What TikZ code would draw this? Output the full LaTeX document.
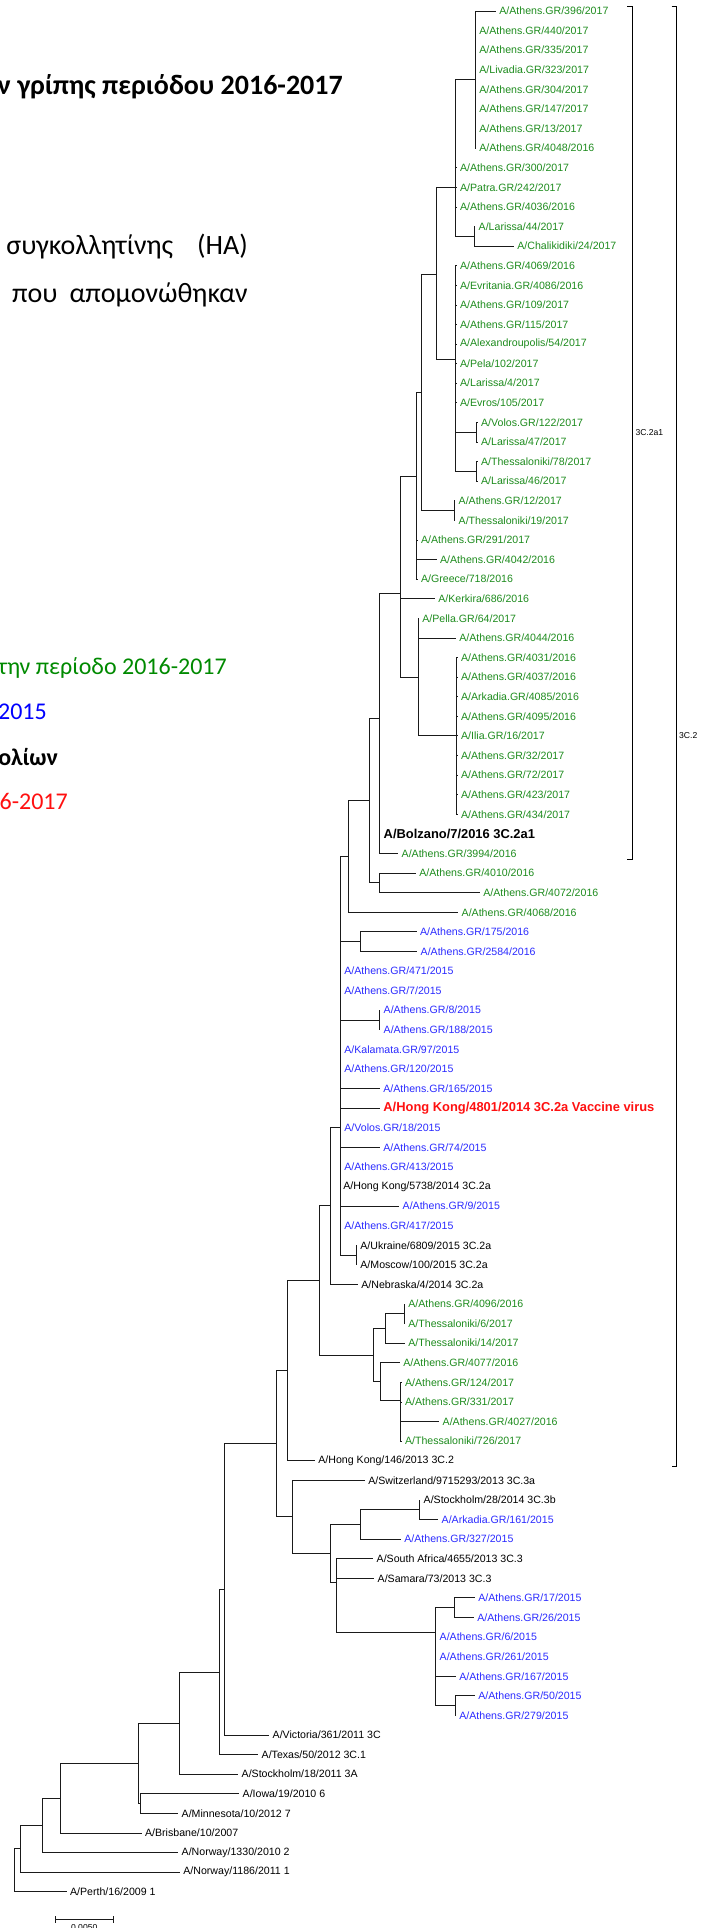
\documentclass[tikz,border=0pt]{standalone}
\usepackage{fontspec}
\setmainfont{Liberation Sans}
\newfontfamily\calibri{Carlito}
\usetikzlibrary{positioning}
\definecolor{IsoGreen}{HTML}{1E8C1E}
\definecolor{IsoBlue}{HTML}{2B2BFF}
\definecolor{VacRed}{HTML}{FF1010}
\definecolor{LegGreen}{HTML}{008A00}
\definecolor{LegBlue}{HTML}{0000FF}
\definecolor{BranchGray}{HTML}{1A1A1A}

\begin{document}
\begin{tikzpicture}[x=1pt,y=-1pt,
    leaf/.style={anchor=west, inner xsep=3.2pt, inner ysep=1pt, font=\fontsize{10.6}{12}\selectfont},
    grn/.style={leaf, text=IsoGreen},
    blu/.style={leaf, text=IsoBlue},
    blk/.style={leaf, text=black},
    refbold/.style={leaf, font=\fontsize{12.9}{14}\selectfont\bfseries},
    br/.style={draw=BranchGray, line width=0.8pt},
    brk/.style={draw=black, line width=0.7pt},
    cladelab/.style={inner sep=0pt, font=\fontsize{8.6}{10}\selectfont},
    slide/.style={anchor=east, inner sep=0pt, font=\calibri\fontsize{28}{32}\selectfont},
    legtxt/.style={anchor=east, inner sep=0pt, font=\calibri\fontsize{24}{28}\selectfont}]

  \clip (0,0) rectangle (709,1928);
  \fill[white] (0,0) rectangle (709,1928);

  % slide text behind the tree
  \node[slide, font=\calibri\bfseries\fontsize{28}{32}\selectfont] (title) at (343,86.7) {ν γρίπης περιόδου 2016-2017};
  \node[slide] (subA) at (248,246.7) {συγκολλητίνης\hspace{24pt}(HA)};
  \node[slide] (subB) at (248,295) {που\hspace{12pt}απομονώθηκαν};
  \node[legtxt, text=LegGreen] (legA) at (227,668) {την περίοδο 2016-2017};
  \node[legtxt, text=LegBlue] (legB) at (47,712) {2015};
  \node[legtxt, font=\calibri\bfseries\fontsize{24}{28}\selectfont] (legC) at (58,757) {ολίων};
  \node[legtxt, text=VacRed] (legD) at (68,801) {2016-2017};

  % leaves
  \node[grn] (l1) at (496,11) {A/Athens.GR/396/2017};
  \node[grn] (l2) at (476,30.6) {A/Athens.GR/440/2017};
  \node[grn] (l3) at (476,50.2) {A/Athens.GR/335/2017};
  \node[grn] (l4) at (476,69.8) {A/Livadia.GR/323/2017};
  \node[grn] (l5) at (476,89.4) {A/Athens.GR/304/2017};
  \node[grn] (l6) at (476,108.9) {A/Athens.GR/147/2017};
  \node[grn] (l7) at (476,128.5) {A/Athens.GR/13/2017};
  \node[grn] (l8) at (476,148.1) {A/Athens.GR/4048/2016};
  \node[grn] (l9) at (456.7,167.7) {A/Athens.GR/300/2017};
  \node[grn] (l10) at (456.7,187.3) {A/Patra.GR/242/2017};
  \node[grn] (l11) at (456.7,206.9) {A/Athens.GR/4036/2016};
  \node[grn] (l12) at (475.3,226.5) {A/Larissa/44/2017};
  \node[grn] (l13) at (514,246.1) {A/Chalikidiki/24/2017};
  \node[grn] (l14) at (456.7,265.7) {A/Athens.GR/4069/2016};
  \node[grn] (l15) at (456.7,285.3) {A/Evritania.GR/4086/2016};
  \node[grn] (l16) at (456.7,304.9) {A/Athens.GR/109/2017};
  \node[grn] (l17) at (456.7,324.4) {A/Athens.GR/115/2017};
  \node[grn] (l18) at (456.7,344.0) {A/Alexandroupolis/54/2017};
  \node[grn] (l19) at (456.7,363.6) {A/Pela/102/2017};
  \node[grn] (l20) at (456.7,383.2) {A/Larissa/4/2017};
  \node[grn] (l21) at (456.7,402.8) {A/Evros/105/2017};
  \node[grn] (l22) at (477.7,422.4) {A/Volos.GR/122/2017};
  \node[grn] (l23) at (477.7,442.0) {A/Larissa/47/2017};
  \node[grn] (l24) at (477.7,461.6) {A/Thessaloniki/78/2017};
  \node[grn] (l25) at (477.7,481.2) {A/Larissa/46/2017};
  \node[grn] (l26) at (455.3,500.8) {A/Athens.GR/12/2017};
  \node[grn] (l27) at (455.3,520.3) {A/Thessaloniki/19/2017};
  \node[grn] (l28) at (417.7,539.9) {A/Athens.GR/291/2017};
  \node[grn] (l29) at (436.7,559.5) {A/Athens.GR/4042/2016};
  \node[grn] (l30) at (417.7,579.1) {A/Greece/718/2016};
  \node[grn] (l31) at (435,598.7) {A/Kerkira/686/2016};
  \node[grn] (l32) at (419,618.3) {A/Pella.GR/64/2017};
  \node[grn] (l33) at (456,637.9) {A/Athens.GR/4044/2016};
  \node[grn] (l34) at (457.7,657.5) {A/Athens.GR/4031/2016};
  \node[grn] (l35) at (457.7,677.1) {A/Athens.GR/4037/2016};
  \node[grn] (l36) at (457.7,696.7) {A/Arkadia.GR/4085/2016};
  \node[grn] (l37) at (457.7,716.3) {A/Athens.GR/4095/2016};
  \node[grn] (l38) at (457.7,735.8) {A/Ilia.GR/16/2017};
  \node[grn] (l39) at (457.7,755.4) {A/Athens.GR/32/2017};
  \node[grn] (l40) at (457.7,775.0) {A/Athens.GR/72/2017};
  \node[grn] (l41) at (457.7,794.6) {A/Athens.GR/423/2017};
  \node[grn] (l42) at (457.7,814.2) {A/Athens.GR/434/2017};
  \node[refbold] (l43) at (380.3,833.8) {A/Bolzano/7/2016 3C.2a1};
  \node[grn] (l44) at (398.3,853.4) {A/Athens.GR/3994/2016};
  \node[grn] (l45) at (416,873.0) {A/Athens.GR/4010/2016};
  \node[grn] (l46) at (480,892.6) {A/Athens.GR/4072/2016};
  \node[grn] (l47) at (458.3,912.2) {A/Athens.GR/4068/2016};
  \node[blu] (l48) at (416.7,931.7) {A/Athens.GR/175/2016};
  \node[blu] (l49) at (417.3,951.3) {A/Athens.GR/2584/2016};
  \node[blu] (l50) at (341,970.9) {A/Athens.GR/471/2015};
  \node[blu] (l51) at (341,990.5) {A/Athens.GR/7/2015};
  \node[blu] (l52) at (380.3,1010.1) {A/Athens.GR/8/2015};
  \node[blu] (l53) at (380.3,1029.7) {A/Athens.GR/188/2015};
  \node[blu] (l54) at (341,1049.3) {A/Kalamata.GR/97/2015};
  \node[blu] (l55) at (341,1068.9) {A/Athens.GR/120/2015};
  \node[blu] (l56) at (380,1088.5) {A/Athens.GR/165/2015};
  \node[refbold, text=VacRed] (l57) at (380,1108.1) {A/Hong Kong/4801/2014 3C.2a Vaccine virus};
  \node[blu] (l58) at (341,1127.6) {A/Volos.GR/18/2015};
  \node[blu] (l59) at (380,1147.2) {A/Athens.GR/74/2015};
  \node[blu] (l60) at (341,1166.8) {A/Athens.GR/413/2015};
  \node[blk] (l61) at (340,1186.4) {A/Hong Kong/5738/2014 3C.2a};
  \node[blu] (l62) at (399.3,1206.0) {A/Athens.GR/9/2015};
  \node[blu] (l63) at (341,1225.6) {A/Athens.GR/417/2015};
  \node[blk] (l64) at (357,1245.2) {A/Ukraine/6809/2015 3C.2a};
  \node[blk] (l65) at (357,1264.8) {A/Moscow/100/2015 3C.2a};
  \node[blk] (l66) at (358,1284.4) {A/Nebraska/4/2014 3C.2a};
  \node[grn] (l67) at (405,1304.0) {A/Athens.GR/4096/2016};
  \node[grn] (l68) at (405,1323.5) {A/Thessaloniki/6/2017};
  \node[grn] (l69) at (405,1343.1) {A/Thessaloniki/14/2017};
  \node[grn] (l70) at (400,1362.7) {A/Athens.GR/4077/2016};
  \node[grn] (l71) at (401.7,1382.3) {A/Athens.GR/124/2017};
  \node[grn] (l72) at (401.7,1401.9) {A/Athens.GR/331/2017};
  \node[grn] (l73) at (439.3,1421.5) {A/Athens.GR/4027/2016};
  \node[grn] (l74) at (401.7,1441.1) {A/Thessaloniki/726/2017};
  \node[blk] (l75) at (315,1460.7) {A/Hong Kong/146/2013 3C.2};
  \node[blk] (l76) at (365,1480.3) {A/Switzerland/9715293/2013 3C.3a};
  \node[blk] (l77) at (420.3,1499.9) {A/Stockholm/28/2014 3C.3b};
  \node[blu] (l78) at (438.3,1519.4) {A/Arkadia.GR/161/2015};
  \node[blu] (l79) at (401,1539.0) {A/Athens.GR/327/2015};
  \node[blk] (l80) at (373.3,1558.6) {A/South Africa/4655/2013 3C.3};
  \node[blk] (l81) at (374.3,1578.2) {A/Samara/73/2013 3C.3};
  \node[blu] (l82) at (475,1597.8) {A/Athens.GR/17/2015};
  \node[blu] (l83) at (474,1617.4) {A/Athens.GR/26/2015};
  \node[blu] (l84) at (436.3,1637.0) {A/Athens.GR/6/2015};
  \node[blu] (l85) at (436.3,1656.6) {A/Athens.GR/261/2015};
  \node[blu] (l86) at (456,1676.2) {A/Athens.GR/167/2015};
  \node[blu] (l87) at (475,1695.8) {A/Athens.GR/50/2015};
  \node[blu] (l88) at (456,1715.3) {A/Athens.GR/279/2015};
  \node[blk] (l89) at (269.3,1734.9) {A/Victoria/361/2011 3C};
  \node[blk] (l90) at (258.3,1754.5) {A/Texas/50/2012 3C.1};
  \node[blk] (l91) at (238.3,1774.1) {A/Stockholm/18/2011 3A};
  \node[blk] (l92) at (239.3,1793.7) {A/Iowa/19/2010 6};
  \node[blk] (l93) at (178.3,1813.3) {A/Minnesota/10/2012 7};
  \node[blk] (l94) at (141.7,1832.9) {A/Brisbane/10/2007};
  \node[blk] (l95) at (178.3,1852.5) {A/Norway/1330/2010 2};
  \node[blk] (l96) at (180,1872.1) {A/Norway/1186/2011 1};
  \node[blk] (l97) at (66.7,1891.7) {A/Perth/16/2009 1};

  % internal nodes
  \coordinate (nA) at (475,79.5);
  \coordinate (nC) at (474.3,236.3);
  \coordinate (nB) at (455.7,187.3);
  \coordinate (nVL) at (476.7,432.2);
  \coordinate (nTL) at (476.7,471.4);
  \coordinate (nE) at (455.7,359.3);
  \coordinate (nD) at (436.7,274.7);
  \coordinate (nAT) at (454.3,510.5);
  \coordinate (nH) at (421.7,392.8);
  \coordinate (nG) at (416.7,559.5);
  \coordinate (nI) at (416.7,476.2);
  \coordinate (nK) at (456.7,735.8);
  \coordinate (nJ) at (418,677);
  \coordinate (nV) at (400,593);
  \coordinate (nL) at (379.3,718.4);
  \coordinate (nM) at (379.3,882.8);
  \coordinate (nN) at (369.3,800.7);
  \coordinate (nO) at (348.3,856.5);
  \coordinate (nQ) at (360,941.5);
  \coordinate (nRR) at (379.3,1019.9);
  \coordinate (nS) at (356,1255);
  \coordinate (nR) at (340,1127);
  \coordinate (nU) at (330,1205.7);
  \coordinate (nX1) at (404,1313.8);
  \coordinate (nX2) at (385.7,1328.5);
  \coordinate (nX4) at (400.7,1400);
  \coordinate (nX3) at (380.7,1381.4);
  \coordinate (nX) at (373.3,1355.3);
  \coordinate (nW) at (319.3,1280.5);
  \coordinate (nY) at (287.3,1370.6);
  \coordinate (nZ1) at (419.3,1509.7);
  \coordinate (nZ2) at (360.7,1524.4);
  \coordinate (nZ5) at (454.3,1607.6);
  \coordinate (nZ6) at (455,1705.6);
  \coordinate (nZ4) at (435.3,1632.7);
  \coordinate (nZ3) at (336,1582);
  \coordinate (nZ7) at (330,1553.2);
  \coordinate (nZ8) at (292.5,1516.7);
  \coordinate (nEE) at (276.5,1443.6);
  \coordinate (nDD) at (224,1589.3);
  \coordinate (nCC) at (219,1671.9);
  \coordinate (nBB) at (179,1723);
  \coordinate (nIM) at (140,1803.5);
  \coordinate (nAA) at (138.7,1763.3);
  \coordinate (nBR) at (60,1798.1);
  \coordinate (nNO) at (42.7,1825.3);
  \coordinate (nNW) at (20.7,1848.7);
  \coordinate (root) at (14,1870.2);

  % branches
  \foreach \c in {l1,l2,l3,l4,l5,l6,l7,l8} \draw[br] (nA) |- (\c.west);
  \foreach \c in {l12,l13} \draw[br] (nC) |- (\c.west);
  \foreach \c in {l9,l10,l11} \draw[br] (nB) |- (\c.west);
  \foreach \c in {nA,nC} \draw[br] (nB) |- (\c);
  \foreach \c in {l22,l23} \draw[br] (nVL) |- (\c.west);
  \foreach \c in {l24,l25} \draw[br] (nTL) |- (\c.west);
  \foreach \c in {l14,l15,l16,l17,l18,l19,l20,l21} \draw[br] (nE) |- (\c.west);
  \foreach \c in {nVL,nTL} \draw[br] (nE) |- (\c);
  \foreach \c in {nB,nE} \draw[br] (nD) |- (\c);
  \foreach \c in {l26,l27} \draw[br] (nAT) |- (\c.west);
  \foreach \c in {nD,nAT} \draw[br] (nH) |- (\c);
  \foreach \c in {l28,l29,l30} \draw[br] (nG) |- (\c.west);
  \foreach \c in {nH,nG} \draw[br] (nI) |- (\c);
  \foreach \c in {l34,l35,l36,l37,l38,l39,l40,l41,l42} \draw[br] (nK) |- (\c.west);
  \foreach \c in {l32,l33} \draw[br] (nJ) |- (\c.west);
  \draw[br] (nJ) |- (nK);
  \foreach \c in {nI,nJ} \draw[br] (nV) |- (\c);
  \draw[br] (nV) |- (l31.west);
  \draw[br] (nL) |- (nV);
  \foreach \c in {l43,l44} \draw[br] (nL) |- (\c.west);
  \foreach \c in {l45,l46} \draw[br] (nM) |- (\c.west);
  \foreach \c in {nL,nM} \draw[br] (nN) |- (\c);
  \draw[br] (nO) |- (nN);
  \draw[br] (nO) |- (l47.west);
  \foreach \c in {l48,l49} \draw[br] (nQ) |- (\c.west);
  \foreach \c in {l52,l53} \draw[br] (nRR) |- (\c.west);
  \foreach \c in {l64,l65} \draw[br] (nS) |- (\c.west);
  \foreach \c in {nO,nQ,nRR,nS} \draw[br] (nR) |- (\c);
  \foreach \c in {l50,l51,l54,l55,l56,l57,l58,l59,l60,l61,l62,l63} \draw[br] (nR) |- (\c.west);
  \draw[br] (nU) |- (nR);
  \draw[br] (nU) |- (l66.west);
  \foreach \c in {l67,l68} \draw[br] (nX1) |- (\c.west);
  \draw[br] (nX2) |- (nX1);
  \draw[br] (nX2) |- (l69.west);
  \foreach \c in {l71,l72,l73,l74} \draw[br] (nX4) |- (\c.west);
  \draw[br] (nX3) |- (l70.west);
  \draw[br] (nX3) |- (nX4);
  \foreach \c in {nX2,nX3} \draw[br] (nX) |- (\c);
  \foreach \c in {nU,nX} \draw[br] (nW) |- (\c);
  \draw[br] (nY) |- (nW);
  \draw[br] (nY) |- (l75.west);
  \foreach \c in {l77,l78} \draw[br] (nZ1) |- (\c.west);
  \draw[br] (nZ2) |- (nZ1);
  \draw[br] (nZ2) |- (l79.west);
  \foreach \c in {l82,l83} \draw[br] (nZ5) |- (\c.west);
  \foreach \c in {l87,l88} \draw[br] (nZ6) |- (\c.west);
  \foreach \c in {l84,l85,l86} \draw[br] (nZ4) |- (\c.west);
  \foreach \c in {nZ5,nZ6} \draw[br] (nZ4) |- (\c);
  \foreach \c in {l80,l81} \draw[br] (nZ3) |- (\c.west);
  \draw[br] (nZ3) |- (nZ4);
  \foreach \c in {nZ2,nZ3} \draw[br] (nZ7) |- (\c);
  \draw[br] (nZ8) |- (l76.west);
  \draw[br] (nZ8) |- (nZ7);
  \foreach \c in {nY,nZ8} \draw[br] (nEE) |- (\c);
  \draw[br] (nDD) |- (nEE);
  \draw[br] (nDD) |- (l89.west);
  \draw[br] (nCC) |- (nDD);
  \draw[br] (nCC) |- (l90.west);
  \draw[br] (nBB) |- (nCC);
  \draw[br] (nBB) |- (l91.west);
  \foreach \c in {l92,l93} \draw[br] (nIM) |- (\c.west);
  \foreach \c in {nBB,nIM} \draw[br] (nAA) |- (\c);
  \draw[br] (nBR) |- (nAA);
  \draw[br] (nBR) |- (l94.west);
  \draw[br] (nNO) |- (nBR);
  \draw[br] (nNO) |- (l95.west);
  \draw[br] (nNW) |- (nNO);
  \draw[br] (nNW) |- (l96.west);
  \draw[br] (root) |- (nNW);
  \draw[br] (root) |- (l97.west);

  % clade brackets
  \draw[brk] (627,6) -- (632.3,6) -- (632.3,859.3) -- (627,859.3);
  \coordinate (c2a1) at (632.3,432.6);
  \node[cladelab, right=3pt of c2a1] (c2a1lab) {3C.2a1};
  \draw[brk] (671.7,6) -- (676,6) -- (676,1466) -- (671.7,1466);
  \coordinate (c2) at (676,736);
  \node[cladelab, right=3pt of c2] (c2lab) {3C.2};

  % scale bar
  \draw[br, line width=0.7pt] (55,1916) -- (55,1922.5) (55,1919.3) -- (113.3,1919.3) (113.3,1916) -- (113.3,1922.5);
  \node[cladelab, anchor=north] (sbar) at (84.2,1924.5) {0.0050};
\end{tikzpicture}
\end{document}
